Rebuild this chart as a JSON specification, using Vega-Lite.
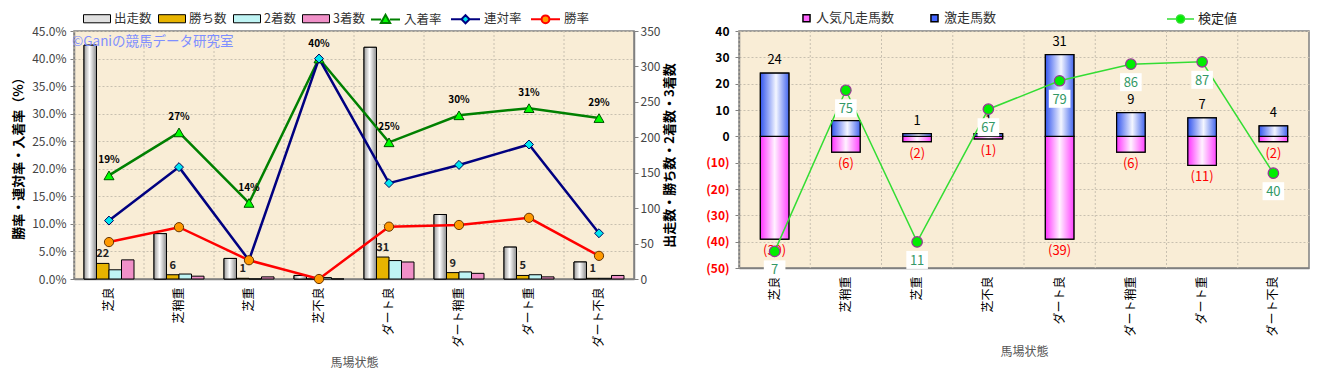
{
  "$schema": "https://vega.github.io/schema/vega-lite/v6.json",
  "background": "white",
  "padding": {"left": 11, "top": 2, "right": 5, "bottom": 5},
  "spacing": 27,
  "resolve": {"scale": {"color": "independent", "stroke": "independent", "fill": "independent", "shape": "independent"}, "legend": {"color": "independent", "stroke": "independent"}},
  "config": {
    "font": "Noto Sans CJK JP",
    "view": {"fill": "#F9EDD6", "stroke": "#808080", "strokeWidth": 1.5},
    "axis": {"labelFontSize": 11, "labelColor": "#333333", "labelOverlap": false, "titleFontSize": 12, "titleColor": "#555555", "titleFontWeight": "normal", "gridColor": "#C8C0B0", "gridDash": [2, 2], "gridWidth": 1, "tickColor": "#808080", "domainColor": "#808080", "domainWidth": 1.5, "tickSize": 4},
    "legend": {"labelFontSize": 12.5, "labelColor": "#333333", "padding": 0, "labelOffset": 3, "columnPadding": 8}
  },
  "datasets": {
    "left": [
      {"cond": "芝良", "出走数": 330, "勝ち数": 22, "2着数": 13, "3着数": 27, "入着率": 0.188, "連対率": 0.106, "勝率": 0.067},
      {"cond": "芝稍重", "出走数": 64, "勝ち数": 6, "2着数": 7, "3着数": 4, "入着率": 0.266, "連対率": 0.203, "勝率": 0.094},
      {"cond": "芝重", "出走数": 29, "勝ち数": 1, "2着数": 0, "3着数": 3, "入着率": 0.138, "連対率": 0.034, "勝率": 0.034},
      {"cond": "芝不良", "出走数": 5, "勝ち数": 0, "2着数": 2, "3着数": 0, "入着率": 0.4, "連対率": 0.4, "勝率": 0.0},
      {"cond": "ダート良", "出走数": 327, "勝ち数": 31, "2着数": 26, "3着数": 24, "入着率": 0.248, "連対率": 0.174, "勝率": 0.095},
      {"cond": "ダート稍重", "出走数": 91, "勝ち数": 9, "2着数": 10, "3着数": 8, "入着率": 0.297, "連対率": 0.207, "勝率": 0.098},
      {"cond": "ダート重", "出走数": 45, "勝ち数": 5, "2着数": 6, "3着数": 3, "入着率": 0.31, "連対率": 0.244, "勝率": 0.111},
      {"cond": "ダート不良", "出走数": 24, "勝ち数": 1, "2着数": 1, "3着数": 5, "入着率": 0.292, "連対率": 0.083, "勝率": 0.042}
    ],
    "right": [
      {"cond": "芝良", "激走馬数": 24, "人気凡走馬数": -39, "検定値": 7},
      {"cond": "芝稍重", "激走馬数": 6, "人気凡走馬数": -6, "検定値": 75},
      {"cond": "芝重", "激走馬数": 1, "人気凡走馬数": -2, "検定値": 11},
      {"cond": "芝不良", "激走馬数": 1, "人気凡走馬数": -1, "検定値": 67},
      {"cond": "ダート良", "激走馬数": 31, "人気凡走馬数": -39, "検定値": 79},
      {"cond": "ダート稍重", "激走馬数": 9, "人気凡走馬数": -6, "検定値": 86},
      {"cond": "ダート重", "激走馬数": 7, "人気凡走馬数": -11, "検定値": 87},
      {"cond": "ダート不良", "激走馬数": 4, "人気凡走馬数": -2, "検定値": 40}
    ],
    "wm": [{"label": "©Ganiの競馬データ研究室"}]
  },
  "hconcat": [
    {
      "width": 560,
      "height": 248,
      "data": {"name": "left"},
      "encoding": {
        "x": {"field": "cond", "type": "nominal", "sort": null, "scale": {"paddingInner": 0, "paddingOuter": 0},
          "axis": {"labelAngle": -90, "labelFontSize": 12, "labelColor": "#000000", "grid": false, "ticks": false, "title": "馬場状態", "titlePadding": 10, "labelPadding": 8}}
      },
      "layer": [
        {"mark": {"type": "rule", "strokeDash": [2, 2], "color": "#C8C0B0", "strokeWidth": 1},
         "encoding": {"x": {"field": "cond", "type": "nominal", "sort": null, "bandPosition": 0}}},
        {
          "layer": [
            {
              "transform": [{"fold": ["出走数", "勝ち数", "2着数", "3着数"], "as": ["series", "count"]}],
              "mark": {"type": "bar", "stroke": "#000000", "strokeWidth": 1},
              "encoding": {
                "xOffset": {"field": "series", "type": "nominal", "sort": ["出走数", "勝ち数", "2着数", "3着数"], "scale": {"paddingOuter": 0.8, "paddingInner": 0}},
                "y": {"field": "count", "type": "quantitative", "scale": {"domain": [0, 350], "nice": false},
                  "axis": {"orient": "right", "values": [0, 50, 100, 150, 200, 250, 300, 350], "tickCount": 20, "labelOverlap": false, "grid": false, "title": "出走数・勝ち数・2着数・3着数", "titleAngle": 270, "titleBaseline": "top", "titleFontWeight": "bold", "titleColor": "#000000", "titleFontSize": 13, "labelColor": "#444444", "labelFontSize": 12, "titlePadding": 4}},
                "color": {"field": "series", "type": "nominal",
                  "scale": {"domain": ["出走数", "勝ち数", "2着数", "3着数"], "range": ["#E0E0E0", "#E8B400", "#BFF4F4", "#F090C8"]},
                  "legend": {"orient": "none", "legendX": 9, "legendY": -26.5, "direction": "horizontal", "title": null, "columnPadding": 4, "symbolType": "M-1,-0.3H1V0.3H-1Z", "symbolSize": 729, "symbolStrokeColor": "#000000", "symbolStrokeWidth": 1}}
              }
            },
            {
              "transform": [{"fold": ["出走数", "勝ち数", "2着数", "3着数"], "as": ["series", "count"]}, {"filter": {"field": "series", "equal": "出走数"}}],
              "mark": {"type": "bar", "stroke": "#000000", "strokeWidth": 1,
                "fill": {"x1": 0, "y1": 0, "x2": 1, "y2": 0, "gradient": "linear", "stops": [{"offset": 0, "color": "#9A9A9A"}, {"offset": 0.45, "color": "#FFFFFF"}, {"offset": 1, "color": "#8A8A8A"}]}},
              "encoding": {
                "xOffset": {"field": "series", "type": "nominal", "sort": ["出走数", "勝ち数", "2着数", "3着数"]},
                "y": {"field": "count", "type": "quantitative"}
              }
            },
            {
              "transform": [{"fold": ["出走数", "勝ち数", "2着数", "3着数"], "as": ["series", "count"]}, {"filter": {"field": "series", "equal": "勝ち数"}}, {"filter": "datum.count > 0"}],
              "mark": {"type": "text", "baseline": "bottom", "dy": -4, "fontSize": 11, "fontWeight": "bold", "color": "#222222"},
              "encoding": {
                "xOffset": {"field": "series", "type": "nominal", "sort": ["出走数", "勝ち数", "2着数", "3着数"]},
                "y": {"field": "count", "type": "quantitative"},
                "text": {"field": "count", "type": "quantitative"}
              }
            }
          ]
        },
        {
          "layer": [
            {
              "transform": [{"fold": ["入着率", "連対率", "勝率"], "as": ["series2", "rate"]}],
              "mark": {"type": "line", "strokeWidth": 2.5},
              "encoding": {
                "y": {"field": "rate", "type": "quantitative", "scale": {"domain": [0, 0.45], "nice": false},
                  "axis": {"orient": "left", "values": [0, 0.05, 0.1, 0.15, 0.2, 0.25, 0.3, 0.35, 0.4, 0.45], "tickCount": 20, "labelOverlap": false, "format": ".1%", "grid": true, "title": "勝率・連対率・入着率（%）", "titleFontWeight": "bold", "titleColor": "#000000", "titleFontSize": 13, "labelColor": "#444444", "labelFontSize": 12, "labelPadding": 4, "titlePadding": 6}},
                "stroke": {"field": "series2", "type": "nominal",
                  "scale": {"domain": ["入着率", "連対率", "勝率"], "range": ["#008000", "#000080", "#FF0000"]},
                  "legend": {"orient": "none", "legendX": 296, "legendY": -27.5, "direction": "horizontal", "title": null, "columnPadding": 5, "symbolSize": 841, "symbolStrokeWidth": 2,
                    "encode": {"symbols": {"update": {
                      "shape": {"signal": "datum.value === '入着率' ? 'M-1,0H-0.3M0.3,0H1M0,-0.32L0.32,0.24L-0.32,0.24Z' : datum.value === '連対率' ? 'M-1,0H-0.28M0.28,0H1M0,-0.28L0.28,0L0,0.28L-0.28,0Z' : 'M-1,0H-0.27M0.27,0H1M0.27,0A0.27,0.27 0 1,1 -0.27,0A0.27,0.27 0 1,1 0.27,0Z'"},
                      "fill": {"signal": "datum.value === '入着率' ? '#00FF00' : datum.value === '連対率' ? '#00E5EE' : '#FF9900'"},
                      "strokeWidth": {"value": 2}}}}}}
              }
            },
            {
              "mark": {"type": "point", "shape": "triangle-up", "filled": true, "opacity": 1, "size": 100, "fill": "#00FF00", "stroke": "#005000", "strokeWidth": 1},
              "encoding": {"y": {"field": "入着率", "type": "quantitative"}}
            },
            {
              "mark": {"type": "point", "shape": "diamond", "filled": true, "opacity": 1, "size": 80, "fill": "#00E5EE", "stroke": "#000060", "strokeWidth": 1},
              "encoding": {"y": {"field": "連対率", "type": "quantitative"}}
            },
            {
              "mark": {"type": "point", "shape": "circle", "filled": true, "opacity": 1, "size": 85, "fill": "#FF9900", "stroke": "#663300", "strokeWidth": 1},
              "encoding": {"y": {"field": "勝率", "type": "quantitative"}}
            },
            {
              "mark": {"type": "text", "baseline": "bottom", "dy": -10, "fontSize": 10, "fontWeight": "bold", "color": "#000000"},
              "encoding": {
                "y": {"field": "入着率", "type": "quantitative"},
                "text": {"field": "入着率", "type": "quantitative", "format": ".0%"}
              }
            },
            {
              "data": {"name": "wm"},
              "mark": {"type": "text", "align": "left", "baseline": "middle", "dx": -37, "fontSize": 13.5, "color": "#7F8FFF"},
              "encoding": {
                "x": {"datum": "芝良"},
                "y": {"datum": 0.43},
                "text": {"field": "label", "type": "nominal"}
              }
            }
          ]
        }
      ],
      "resolve": {"scale": {"y": "independent"}}
    },
    {
      "width": 570,
      "height": 237,
      "data": {"name": "right"},
      "encoding": {
        "x": {"field": "cond", "type": "nominal", "sort": null, "scale": {"paddingInner": 0, "paddingOuter": 0},
          "axis": {"labelAngle": -90, "labelFontSize": 12, "labelColor": "#000000", "grid": false, "ticks": false, "title": "馬場状態", "titlePadding": 10, "labelPadding": 8}}
      },
      "layer": [
        {"mark": {"type": "rule", "strokeDash": [2, 2], "color": "#C8C0B0", "strokeWidth": 1},
         "encoding": {"x": {"field": "cond", "type": "nominal", "sort": null, "bandPosition": 0}}},
        {
          "layer": [
            {
              "transform": [{"fold": ["人気凡走馬数", "激走馬数"], "as": ["series", "n"]}],
              "mark": {"type": "bar", "width": {"band": 0.4}, "stroke": "#000000", "strokeWidth": 1.2},
              "encoding": {
                "y": {"field": "n", "type": "quantitative", "stack": null, "scale": {"domain": [-50, 40], "nice": false},
                  "axis": {"values": [-50, -40, -30, -20, -10, 0, 10, 20, 30, 40], "tickCount": 20, "labelOverlap": false, "format": "(d", "grid": true, "title": null, "labelFontWeight": "bold", "labelFontSize": 12, "labelPadding": 6,
                    "labelColor": {"condition": {"test": "datum.value < 0", "value": "#FF0000"}, "value": "#000000"}}},
                "color": {"field": "series", "type": "nominal",
                  "scale": {"domain": ["人気凡走馬数", "激走馬数"], "range": ["#FF66FF", "#4466FF"]},
                  "legend": {"orient": "none", "legendX": 61, "legendY": -19.5, "direction": "horizontal", "title": null, "symbolType": "square", "symbolSize": 50, "columnPadding": 32, "labelFontSize": 13,
                    "encode": {"symbols": {"update": {
                      "fill": {"signal": "datum.value === '激走馬数' ? '#D0D8FF' : '#FFD8FF'"},
                      "stroke": {"signal": "datum.value === '激走馬数' ? '#000080' : '#993399'"},
                      "strokeWidth": {"value": 1.5}}}}}}
              }
            },
            {
              "transform": [{"fold": ["人気凡走馬数", "激走馬数"], "as": ["series", "n"]}, {"filter": {"field": "series", "equal": "人気凡走馬数"}}],
              "mark": {"type": "bar", "width": {"band": 0.4}, "stroke": "#000000", "strokeWidth": 1.2,
                "fill": {"x1": 0, "y1": 0, "x2": 1, "y2": 0, "gradient": "linear", "stops": [{"offset": 0, "color": "#FF33FF"}, {"offset": 0.5, "color": "#FFF2FF"}, {"offset": 1, "color": "#FF44FF"}]}},
              "encoding": {"y": {"field": "n", "type": "quantitative", "stack": null}}
            },
            {
              "transform": [{"fold": ["人気凡走馬数", "激走馬数"], "as": ["series", "n"]}, {"filter": {"field": "series", "equal": "激走馬数"}}],
              "mark": {"type": "bar", "width": {"band": 0.4}, "stroke": "#000000", "strokeWidth": 1.2,
                "fill": {"x1": 0, "y1": 0, "x2": 1, "y2": 0, "gradient": "linear", "stops": [{"offset": 0, "color": "#3355EE"}, {"offset": 0.55, "color": "#F4F6FF"}, {"offset": 1, "color": "#4466EE"}]}},
              "encoding": {"y": {"field": "n", "type": "quantitative", "stack": null}}
            },
            {
              "transform": [{"fold": ["人気凡走馬数", "激走馬数"], "as": ["series", "n"]}, {"filter": {"field": "series", "equal": "激走馬数"}}],
              "mark": {"type": "text", "baseline": "bottom", "dy": -6, "fontSize": 13, "color": "#000000"},
              "encoding": {"y": {"field": "n", "type": "quantitative", "stack": null}, "text": {"field": "n", "type": "quantitative"}}
            },
            {
              "transform": [{"fold": ["人気凡走馬数", "激走馬数"], "as": ["series", "n"]}, {"filter": {"field": "series", "equal": "人気凡走馬数"}}],
              "mark": {"type": "text", "baseline": "top", "dy": 6, "fontSize": 13, "color": "#FF0000"},
              "encoding": {"y": {"field": "n", "type": "quantitative", "stack": null}, "text": {"field": "n", "type": "quantitative", "format": "(d"}}
            },
            {
              "mark": {"type": "rule", "color": "#FF0000", "strokeWidth": 3},
              "encoding": {"y": {"datum": 0}}
            }
          ]
        },
        {
          "layer": [
            {
              "mark": {"type": "line", "strokeWidth": 1.5},
              "encoding": {
                "y": {"field": "検定値", "type": "quantitative", "scale": {"domain": [0, 100], "nice": false}, "axis": null},
                "stroke": {"datum": "検定値", "type": "nominal", "scale": {"range": ["#33DD33"]},
                  "legend": {"orient": "none", "legendX": 427, "legendY": -26.5, "title": null, "symbolSize": 729, "labelFontSize": 13, "labelColor": "#222222",
                    "encode": {"symbols": {"update": {
                      "shape": {"value": "M-1,0H-0.3M0.3,0H1M0.3,0A0.3,0.3 0 1,1 -0.3,0A0.3,0.3 0 1,1 0.3,0Z"},
                      "fill": {"value": "#00EE00"},
                      "strokeWidth": {"value": 1.5}}}}}}
              }
            },
            {
              "mark": {"type": "point", "shape": "circle", "filled": true, "opacity": 1, "size": 110, "fill": "#00EE00", "stroke": "#993399", "strokeWidth": 1.2},
              "encoding": {"y": {"field": "検定値", "type": "quantitative"}}
            },
            {
              "mark": {"type": "point", "shape": "M-1.2,-1H1.2V1H-1.2Z", "filled": true, "opacity": 1, "size": 324, "fill": "#FFFFFF", "strokeWidth": 0, "yOffset": 18},
              "encoding": {"y": {"field": "検定値", "type": "quantitative"}}
            },
            {
              "mark": {"type": "text", "baseline": "middle", "dy": 19, "fontSize": 13, "color": "#339966"},
              "encoding": {"y": {"field": "検定値", "type": "quantitative"}, "text": {"field": "検定値", "type": "quantitative"}}
            }
          ]
        }
      ],
      "resolve": {"scale": {"y": "independent"}}
    }
  ]
}
